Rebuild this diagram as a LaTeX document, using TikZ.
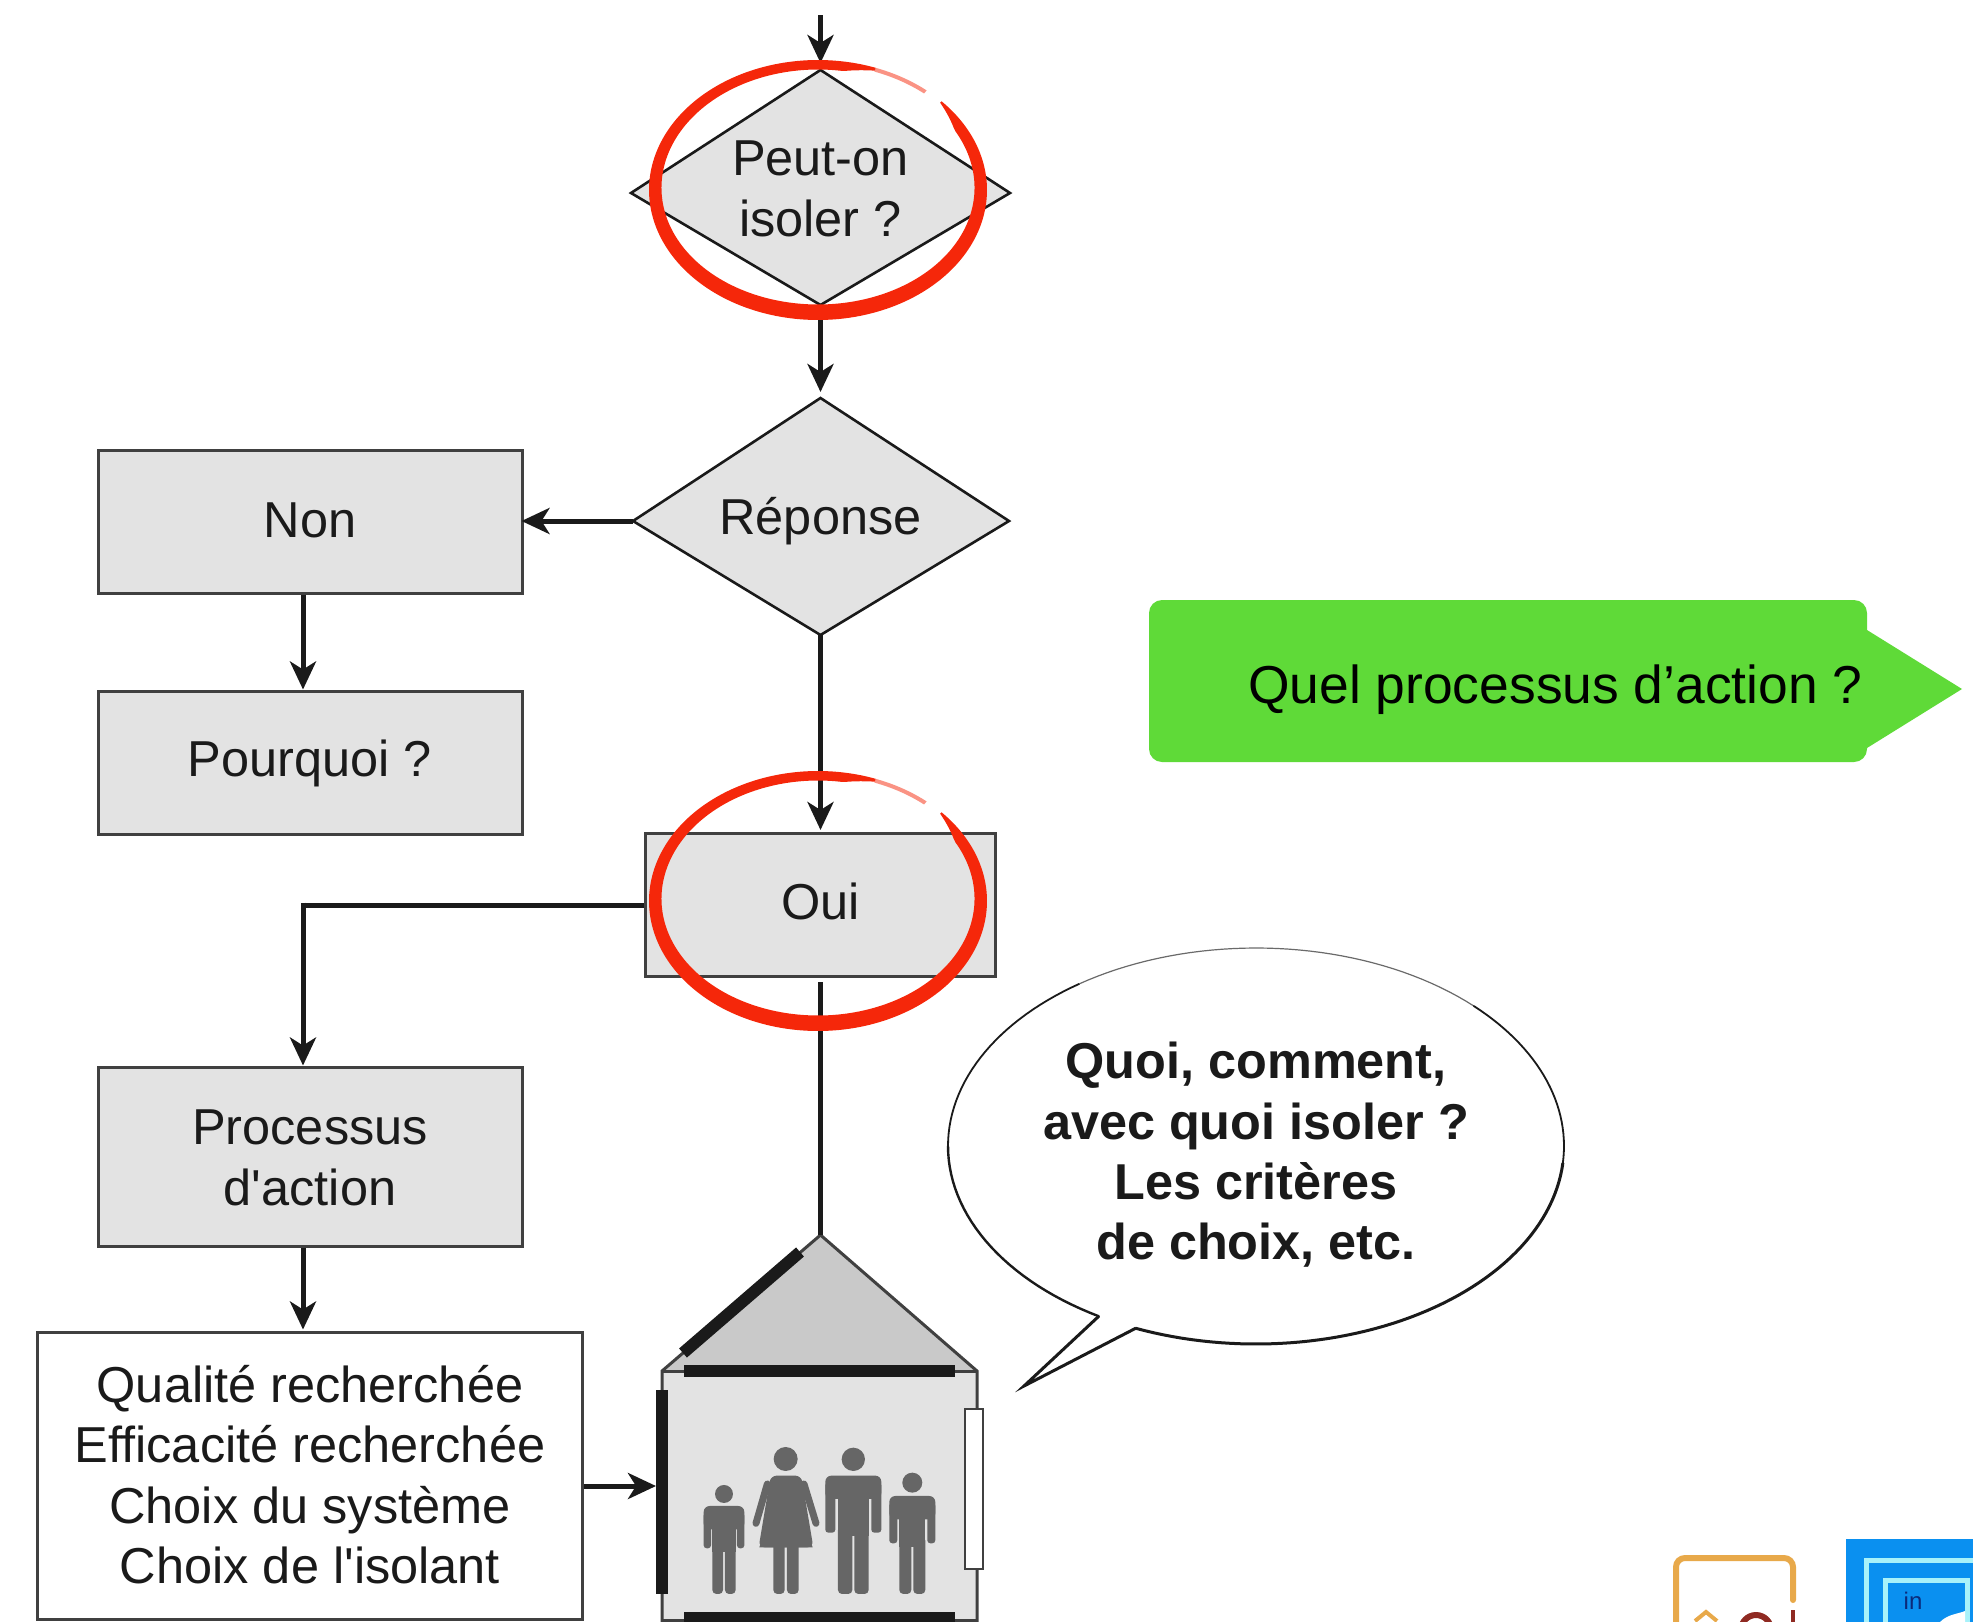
\documentclass[tikz,border=0pt]{standalone}
\usepackage{fontspec}
\setmainfont{Liberation Sans}
\newfontfamily\plainq{Liberation Sans}
\usetikzlibrary{shapes.geometric,arrows.meta}
\definecolor{boxfill}{HTML}{E3E3E3}
\definecolor{boxline}{HTML}{404040}
\definecolor{ink}{HTML}{1A1A1A}
\definecolor{redmark}{HTML}{F5270A}
\definecolor{greenbox}{HTML}{5FDA38}
\definecolor{figgray}{HTML}{666666}
\definecolor{roofgray}{HTML}{C9C9C9}
\definecolor{orangelogo}{HTML}{E8A94A}
\definecolor{redlogo}{HTML}{8F2A22}
\definecolor{bluelogo}{HTML}{0A90F0}
\definecolor{cyanlogo}{HTML}{A8F2FA}
\definecolor{navylogo}{HTML}{0B2A7A}
\tikzset{
  txt/.style={font=\fontsize{50.5}{60.4}\selectfont,text=ink,align=center,inner sep=0pt},
  flowbox/.style={draw=boxline,fill=boxfill,line width=3pt,rectangle,minimum width=424pt,inner sep=0pt,txt},
  decshape/.style={draw=ink,fill=boxfill,line width=2.6pt,line join=miter},
  conn/.style={draw=ink,line width=5pt},
  arr/.style={conn,-{Stealth[length=28pt,width=26pt,inset=8pt]}},
  ins/.style={line width=12pt,draw=ink},
  bub/.style={draw=ink,line cap=round}
}
% ring: centre x, centre y
\newcommand{\redring}[2]{%
  \fill[redmark] plot[domain=-43:290,samples=200] ({#1+(163+6)*cos(\x)},{#2+(124+6)*sin(\x)})
     -- plot[domain=290:-43,samples=200] ({#1+(163+6-min(2+.7*(\x+43),12.5+3*sin(\x),3+.6*(290-\x)))*cos(\x)},{#2+(124+6-min(2+.7*(\x+43),12.5+3*sin(\x),3+.6*(290-\x)))*sin(\x)}) -- cycle;
  \fill[redmark,opacity=.5] plot[domain=-70:-50,samples=24] ({#1+(163+6)*cos(\x)},{#2+(124+6)*sin(\x)})
     -- plot[domain=-50:-70,samples=24] ({#1+(163+2)*cos(\x)},{#2+(124+2)*sin(\x)}) -- cycle;
}
% figure: cx, head y, head r, top, half width, arm end, bottom, body half width, arm width
\newcommand{\figperson}[9]{%
  \fill[figgray] (#1,#2) circle[radius=#3];
  \fill[figgray,rounded corners=6pt] (#1-#5,#4) rectangle (#1+#5,#4+70);
  \fill[figgray,rounded corners=3pt] (#1-#5,#4+20) rectangle (#1-#5+#9,#6);
  \fill[figgray,rounded corners=3pt] (#1+#5-#9,#4+20) rectangle (#1+#5,#6);
  \fill[figgray] (#1-#8,#4+5) rectangle (#1+#8,#6+10);
  \fill[figgray,rounded corners=4pt] (#1-#8,#6-20) rectangle (#1-3,#7);
  \fill[figgray,rounded corners=4pt] (#1+3,#6-20) rectangle (#1+#8,#7);
  \fill[figgray] (#1-#8,#6-20) rectangle (#1+#8,#6+2);
}
\begin{document}
\begin{tikzpicture}[x=1pt,y=-1pt]
\useasboundingbox (0,0) rectangle (1973,1622);
\clip (0,0) rectangle (1973,1622);

% named corners of the decisions
\coordinate (d1n) at (820.5,70);
\coordinate (d1s) at (820.5,305);
\coordinate (d2n) at (820.5,398);
\coordinate (d2s) at (820.5,635);
\coordinate (d2w) at (633,521);
\filldraw[decshape] (631,193) -- (d1n) -- (1010,193) -- (d1s) -- cycle;
\filldraw[decshape] (d2w) -- (d2n) -- (1009,521) -- (d2s) -- cycle;

% nodes
\node[txt] (d1) at (820.5,189) {Peut-on\\isoler ?};
\node[txt] (d2) at (820.5,521) {Réponse};
\node[flowbox,minimum height=143pt] (non) at (310,521.5) {};
\node[txt] (nont) at (310,520.5) {Non};
\node[flowbox,minimum height=143pt] (pq) at (310,762.5) {};
\node[txt] (pqt) at (310,763.5) {Pourquoi ?};
\node[flowbox,minimum width=350pt,minimum height=143pt] (oui) at (820.5,905) {};
\node[txt] (ouit) at (820.5,901) {Oui};
\node[flowbox,minimum height=179pt] (proc) at (310,1156.5) {};
\node[txt] (proct) at (310,1158) {Processus\\d{\plainq '}action};
\node[flowbox,fill=white,minimum width=545pt,minimum height=287pt] (qual) at (310,1475.5) {};
\node[txt] (qualt) at (310,1474.5) {Qualité recherchée\\Efficacité recherchée\\Choix du système\\Choix de {\plainq l'}isolant};
\coordinate (topin) at (820.5,15);
\coordinate (apex) at (820.5,1235);

% house
\fill[roofgray] (662,1371) -- (apex) -- (977,1371) -- cycle;
\fill[boxfill] (662,1371) rectangle (977,1622);
\draw[boxline,line width=3pt] (662,1622) -- (662,1371) -- (apex) -- (977,1371) -- (977,1622);
\draw[boxline,line width=3pt] (662,1371) -- (977,1371);
\draw[boxline,line width=3pt] (662,1620) -- (977,1620);
\draw[ins] (683,1353) -- (800,1252);
\draw[ins] (684,1371) -- (955,1371);
\draw[ins] (662,1390) -- (662,1594);
\draw[ins] (684,1618) -- (955,1618);
\draw[boxline,fill=white,line width=2.5pt] (965,1409) rectangle (983,1569);
\begin{scope}[shift={(640,1220)},x=0.3333pt,y=-0.3333pt]
\figperson{252}{822}{27}{858}{61}{985}{1122}{35}{22}
\figperson{640}{718}{35}{767}{84}{938}{1122}{46}{30}
\figperson{817}{788}{30}{828}{69}{970}{1122}{39}{24}
\fill[figgray] (437,717) circle[radius=36];
\fill[figgray,rounded corners=6pt] (392,767) -- (484,767) -- (520,982) -- (356,982) -- cycle;
\fill[figgray] (358,982) -- (400,860) -- (476,860) -- (518,982) -- cycle;
\draw[figgray,line width=7pt,line cap=round] (382,792) -- (348,910);
\draw[figgray,line width=7pt,line cap=round] (492,792) -- (528,910);
\fill[figgray,rounded corners=4pt] (400,970) rectangle (434,1122);
\fill[figgray,rounded corners=4pt] (441,970) rectangle (476,1122);
\end{scope}

% connectors
\draw[arr,shorten >=7pt] (topin) -- (d1n);
\draw[arr,shorten >=6pt] (d1s) -- (d2n);
\draw[arr,shorten >=-2pt] (d2w) -- (d2w -| non.east);
\draw[arr] ([xshift=-7pt]non.south) -- ([xshift=-7pt]pq.north);
\draw[arr,shorten >=2pt] (d2s) -- (oui.north);
\coordinate (bend) at ([xshift=-7pt]proc.north |- oui.west);
\draw[conn] (oui.west) -- (bend);
\draw[arr] ([yshift=2.5pt]bend) -- ([xshift=-7pt]proc.north);
\draw[conn] ([yshift=-4pt]oui.south) -- (apex);
\draw[arr] ([xshift=-7pt]proc.south) -- ([xshift=-7pt,yshift=1pt]qual.north);
\coordinate (wall) at (656,1486);
\draw[arr] (qual.east |- wall) -- (wall);

% red rings
\redring{818}{190}
\redring{818}{901}

% green callout
\fill[greenbox,rounded corners=13pt] (1149,600) -- (1867,600) -- (1867,762) -- (1149,762) -- cycle;
\fill[greenbox] (1867,630) -- (1962,689) -- (1867,748) -- cycle;
\node[inner sep=0pt,font=\fontsize{53.4}{60}\selectfont,text=black,anchor=west] (quel) at (1248,690) {Quel processus d’action ?};

% speech bubble
\coordinate (btip) at (1024,1386);
\fill[white]
  plot[domain=120.7:473,samples=180] ({1256+308*cos(\x)},{1146+198*sin(\x)}) -- (btip) -- cycle;
\draw[bub,line width=2.4pt] plot[domain=120.7:180,samples=30] ({1256+308*cos(\x)},{1146+198*sin(\x)});
\draw[bub,line width=1.8pt] plot[domain=180:235,samples=30] ({1256+308*cos(\x)},{1146+198*sin(\x)});
\draw[bub,line width=1.2pt,draw=ink!65] plot[domain=235:315,samples=40] ({1256+308*cos(\x)},{1146+198*sin(\x)});
\draw[bub,line width=1.8pt] plot[domain=315:365,samples=30] ({1256+308*cos(\x)},{1146+198*sin(\x)});
\draw[bub,line width=3pt] plot[domain=365:473,samples=60] ({1256+308*cos(\x)},{1146+198*sin(\x)});
\draw[bub,line width=3pt,line join=miter,line cap=butt] ({1256+308*cos(120.7)},{1146+198*sin(120.7)}) -- (btip) -- ({1256+308*cos(113)},{1146+198*sin(113)});
\node[font=\fontsize{50.4}{60.4}\selectfont\bfseries,text=ink,align=center,inner sep=0pt] (bubble) at (1256,1155) {Quoi, comment,\\avec quoi isoler ?\\Les critères\\de choix, etc.};

% logos
\draw[orangelogo,line width=6pt,line cap=round,rounded corners=9pt] (1676,1630) -- (1676,1558) -- (1793,1558) -- (1793,1600);
\draw[orangelogo,line width=4pt] (1695,1621) -- (1706,1612) -- (1717,1621);
\draw[redlogo,line width=6pt] (1741,1630) arc[start angle=180,end angle=0,radius=15pt];
\draw[redlogo,line width=4pt] (1793,1610) -- (1793,1625);
\fill[bluelogo] (1846,1539) rectangle (1973,1622);
\draw[cyanlogo,line width=5pt] (1975,1560) -- (1866,1560) -- (1866,1625);
\draw[cyanlogo,line width=5pt] (1967,1580) -- (1885,1580) -- (1885,1625);
\draw[cyanlogo,line width=5pt] (1967,1578) -- (1967,1625);
\node[font=\fontsize{24}{24}\selectfont,text=navylogo,inner sep=0pt] (logoin) at (1913,1601) {in};
\fill[white] (1940,1622) .. controls (1948,1614) and (1958,1614) .. (1965,1611) -- (1965,1622) -- cycle;
\end{tikzpicture}
\end{document}
